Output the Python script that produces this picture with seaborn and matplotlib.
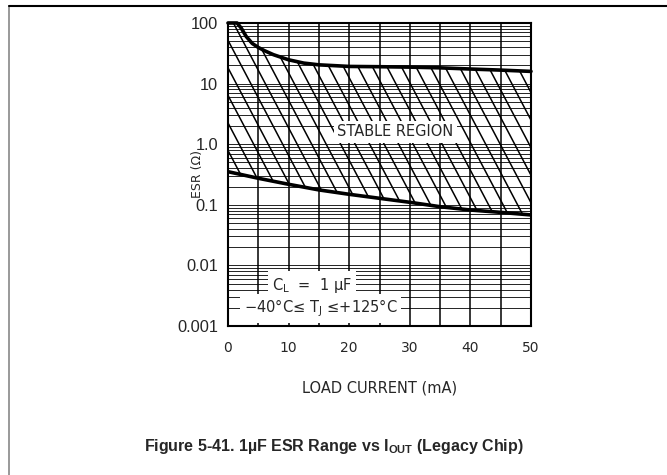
import numpy as np
import pandas as pd
import matplotlib
matplotlib.use("Agg")
import matplotlib.pyplot as plt
from matplotlib.collections import LineCollection
from matplotlib.lines import Line2D
import seaborn as sns

# ---- data ----
upper_current = [0, 1.5, 2.2, 3, 4, 5, 6, 7.5, 10, 12.5, 15, 20, 25, 30, 35, 40, 45, 50]
upper_esr = [100, 100, 82, 60, 46, 39.5, 35, 30, 24.7, 21.8, 20.4, 19.2, 19.0, 18.7, 18.2, 17.4, 16.7, 15.9]
lower_current = [0, 5, 10, 15, 20, 25, 30, 35, 40, 45, 50]
lower_esr = [0.352, 0.274, 0.218, 0.176, 0.149, 0.128, 0.110, 0.093, 0.082, 0.075, 0.068]
x_ticks = [0, 10, 20, 30, 40, 50]
x_ticklabels = ["0", "10", "20", "30", "40", "50"]
y_ticks = [0.001, 0.01, 0.1, 1.0, 10, 100]
y_ticklabels = ["0.001", "0.01", "0.1", "1.0", "10", "100"]

sns.set_style("white")
plt.rcParams["font.family"] = ["DejaVu Sans"]
plt.rcParams["mathtext.fontset"] = "custom"
plt.rcParams["mathtext.rm"] = "DejaVu Sans"
plt.rcParams["mathtext.it"] = "DejaVu Sans"
plt.rcParams["mathtext.bf"] = "Liberation Sans:bold"

fig = plt.figure(figsize=(6.67, 4.75), dpi=100)
ax = fig.add_axes([228 / 667, 1 - 326 / 475, 303 / 667, 303 / 475])

up = pd.DataFrame({"current": upper_current, "esr": upper_esr})
lo = pd.DataFrame({"current": lower_current, "esr": lower_esr})

ax.set_yscale("log")
ax.set_xlim(0, 50)
ax.set_ylim(0.001, 100)

# stable region (between curves) hatched
xs = np.array(upper_current + lower_current[::-1], dtype=float)
ys = np.array(upper_esr + lower_esr[::-1], dtype=float)
poly = ax.fill(xs, ys, facecolor="none", edgecolor="none")[0]

spacing = 14.5 / 303
slope = 1.9
segs = []
for c in np.arange(-0.7, 1.05, spacing):
    segs.append([(c, 1.0), (c + 1 / slope, 0.0)])
lc = LineCollection(segs, colors="black", linewidths=1.1, transform=ax.transAxes, zorder=2)
ax.add_collection(lc)
lc.set_clip_path(poly)

sns.lineplot(data=up, x="current", y="esr", ax=ax, color="black", linewidth=2.6, zorder=4, clip_on=False)
sns.lineplot(data=lo, x="current", y="esr", ax=ax, color="black", linewidth=2.6, zorder=4)

# grid
ax.set_xticks(x_ticks)
ax.set_xticklabels(x_ticklabels)
ax.set_xticks(np.arange(0, 51, 5), minor=True)
ax.set_yticks(y_ticks)
ax.set_yticklabels(y_ticklabels, fontfamily="Liberation Sans", fontsize=11.8)
ax.yaxis.set_minor_locator(matplotlib.ticker.LogLocator(base=10, subs=np.arange(2, 10)))
ax.yaxis.set_minor_formatter(matplotlib.ticker.NullFormatter())
ax.grid(True, axis="x", which="both", color="black", linewidth=1.1, zorder=1)
ax.grid(True, axis="y", which="both", color="black", linewidth=0.6, zorder=1)
ax.set_axisbelow(True)
ax.tick_params(axis="both", which="both", length=0)
ax.tick_params(axis="x", pad=11, labelsize=10)
ax.tick_params(axis="y", pad=7)
for s in ax.spines.values():
    s.set_color("black")
    s.set_linewidth(1.5)

ax.set_xlabel("LOAD CURRENT (mA)", fontsize=10.5, labelpad=18)
ax.set_ylabel("ESR (Ω)", fontsize=9)
ax.yaxis.set_label_coords(-0.08, 0.5)

ax.text(27.6, 1.6, "STABLE REGION", fontsize=10.5, ha="center", va="center", zorder=6,
        bbox=dict(facecolor="white", edgecolor="none", pad=2.5))
ax.text(0.277, 0.135, r"C$_\mathregular{L}$  =  1 $\mu$F", transform=ax.transAxes, fontsize=10.5,
        ha="center", va="center", zorder=6, bbox=dict(facecolor="white", edgecolor="none", pad=3))
ax.text(0.305, 0.058, r"−40°C≤ T$_\mathregular{J}$ ≤+125°C", transform=ax.transAxes, fontsize=10.5,
        ha="center", va="center", zorder=6, bbox=dict(facecolor="white", edgecolor="none", pad=2.5))

# page border lines
fig.add_artist(Line2D([8.5 / 667, 8.5 / 667], [0, 1 - 6 / 475], transform=fig.transFigure, color="#888888", linewidth=1.2))
fig.add_artist(Line2D([8.5 / 667, 1.0], [1 - 6 / 475, 1 - 6 / 475], transform=fig.transFigure, color="black", linewidth=1.5))

fig.text(0.5, 1 - 447 / 475, r"Figure 5-41. 1µF ESR Range vs I$_\mathbf{OUT}$ (Legacy Chip)",
         fontfamily="Liberation Sans", fontweight="bold", fontsize=11.5, ha="center", va="center")

fig.savefig("out.png", dpi=100)
